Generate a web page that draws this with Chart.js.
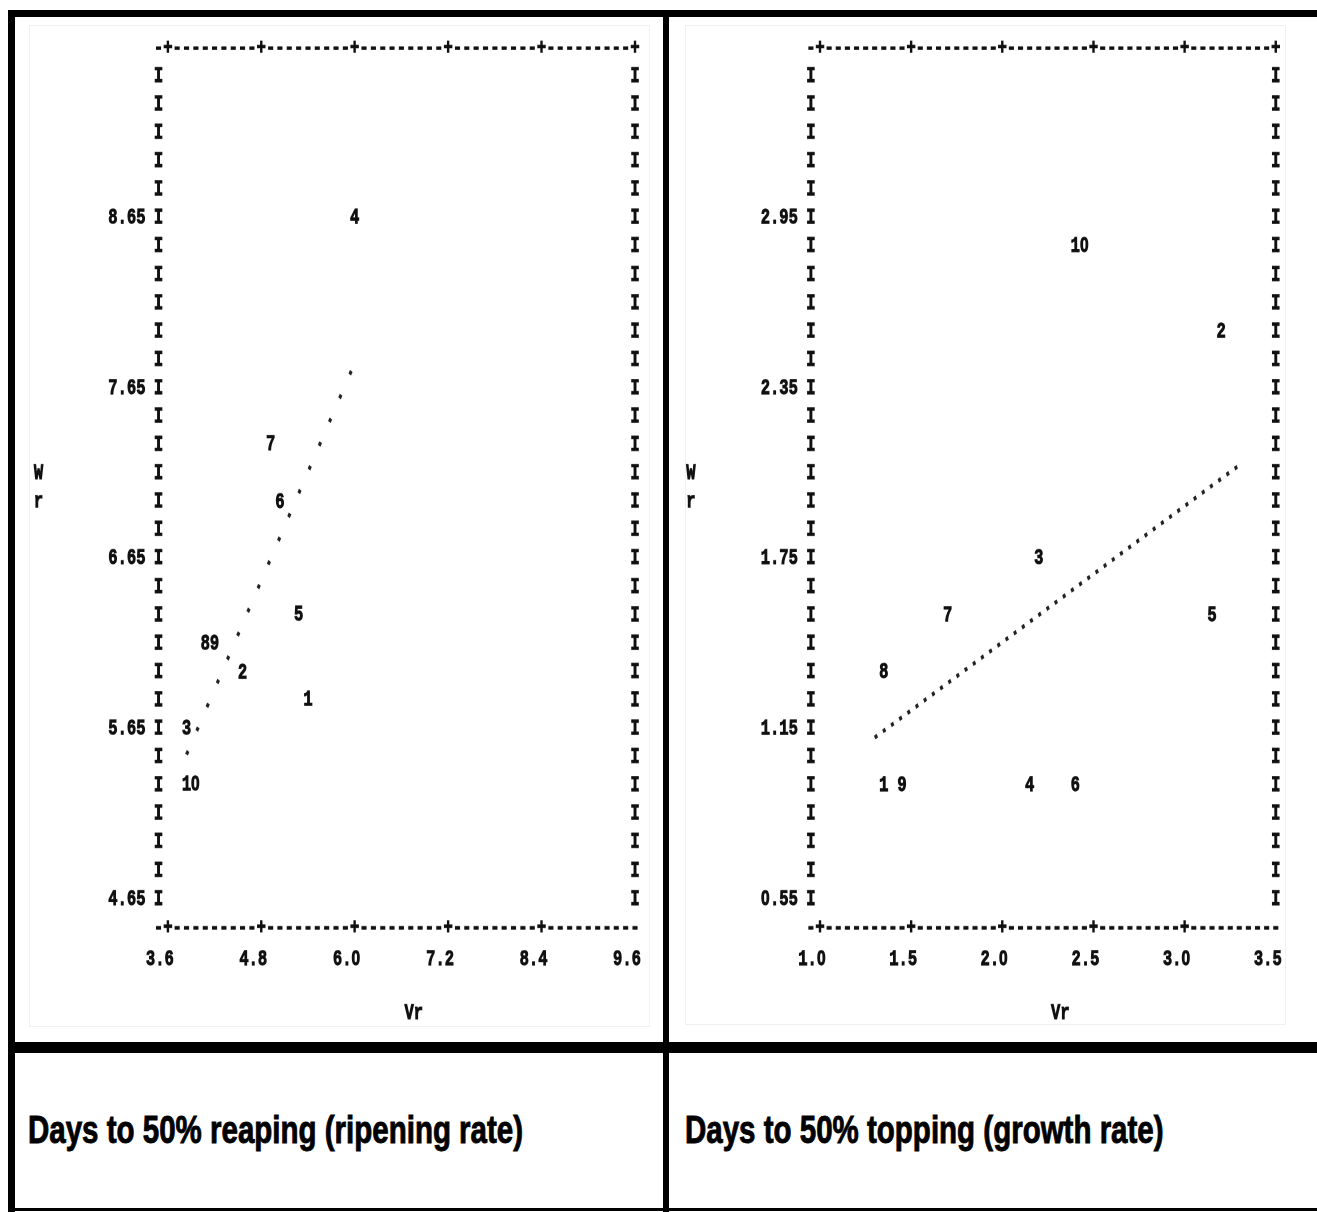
<!DOCTYPE html>
<html>
<head>
<meta charset="utf-8">
<title>Wr/Vr graphs</title>
<script src="https://cdn.jsdelivr.net/npm/chart.js@4/dist/chart.umd.min.js"></script>
<style>
  /* plain (undotted) zero, like the printout */
  @font-face {
    font-family: "PrintZero";
    src: local("Liberation Sans Bold"), local("LiberationSans-Bold");
    font-weight: 700;
    unicode-range: U+0030;
  }
  html, body { margin: 0; padding: 0; background: #fff; }
  body { width: 1317px; height: 1212px; position: relative; overflow: hidden; }
  .bar { position: absolute; background: #000; }
  .frame { position: absolute; border: 1px solid #f1f1f1; }
  .plot { position: absolute; top: 17px; width: 648px; transform-origin: 0 0; }
  .caption { position: absolute; top: 1118px; font: bold 29.5px "Liberation Sans", Arial, sans-serif; line-height: 29.5px;
             white-space: nowrap; color: #000; -webkit-text-stroke: 0.7px #000;
             transform: scaleY(1.33); transform-origin: 0 25px; }
</style>
</head>
<body>

<div class="frame" style="left:29px;top:25px;width:619px;height:1000px"></div>
<div class="frame" style="left:685px;top:25px;width:599px;height:998px"></div>

<div class="plot" style="left:15px"><canvas id="reapChart"></canvas></div>
<div class="plot" style="left:669px"><canvas id="topChart"></canvas></div>

<div class="bar" style="left:8px;top:10px;width:1309px;height:7px"></div>
<div class="bar" style="left:8px;top:10px;width:7px;height:1202px"></div>
<div class="bar" style="left:663px;top:10px;width:6px;height:1202px"></div>
<div class="bar" style="left:8px;top:1042px;width:1309px;height:11px"></div>
<div class="bar" style="left:8px;top:1208px;width:1309px;height:3px"></div>

<div class="caption" style="left:28px">Days to 50% reaping (ripening rate)</div>
<div class="caption" style="left:685px">Days to 50% topping (growth rate)</div>

<script>
// parent numbers printed as plot symbols
const parents = ["1", "2", "3", "4", "5", "6", "7", "8", "9", "10"]

// days to 50% reaping
const reapVr = [5.40, 4.56, 3.84, 6.00, 5.28, 5.04, 4.92, 4.08, 4.20, 3.84]
const reapWr = [5.82, 5.98, 5.65, 8.65, 6.32, 6.98, 7.32, 6.15, 6.15, 5.32]
const reapLineVr = [3.84, 6.00]
const reapLineWr = [5.50, 7.80]
const reapXTicks = [3.6, 4.8, 6.0, 7.2, 8.4, 9.6]
const reapYTicks = [4.65, 5.65, 6.65, 7.65, 8.65]

// days to 50% topping
const topVr = [1.35, 3.20, 2.20, 2.15, 3.15, 2.40, 1.70, 1.35, 1.45, 2.40]
const topWr = [0.95, 2.55, 1.75, 0.95, 1.55, 0.95, 1.55, 1.35, 0.95, 2.85]
const topLineVr = [1.30, 3.30]
const topLineWr = [1.12, 2.08]
const topXTicks = [1.0, 1.5, 2.0, 2.5, 3.0, 3.5]
const topYTicks = [0.55, 1.15, 1.75, 2.35, 2.95]

const MONO_FAMILY = 'PrintZero, "Liberation Mono", "DejaVu Sans Mono", monospace'
const INK = "#111"
const STROKE = 0.7

// the printout is stretched vertically, so each plot is drawn short and scaled
const STRETCH = 1.38
const PANEL_H = 1025
const PLOT_TOP = 31      // top -+--- row, from panel top
const PLOT_BOTTOM = 910  // bottom -+--- row

// line-printer look: I columns, -+--- rows, digit symbols, W/r and Vr titles
const printerPlot = {
    id: "printerPlot",
    afterDatasetsDraw(chart, args, opts) {
        const ctx = chart.ctx
        const a = chart.chartArea
        const x = chart.scales.x
        const y = chart.scales.y
        const xt = opts.xTicks
        const yt = opts.yTicks
        const colStep = (xt[1] - xt[0]) / 10
        const rowStep = (yt[1] - yt[0]) / 6
        const nCols = Math.round((x.max - x.min) / colStep)
        const nRows = Math.round((y.max - y.min) / rowStep)
        const colW = (a.right - a.left) / nCols

        ctx.save()
        ctx.font = "bold 15.5px " + MONO_FAMILY
        ctx.fillStyle = INK
        ctx.strokeStyle = INK
        ctx.lineWidth = STROKE
        ctx.textAlign = "center"
        ctx.textBaseline = "middle"

        const put = (s, px, py) => {
            ctx.fillText(s, px, py)
            ctx.strokeText(s, px, py)
        }

        for (let k = 1; k < nRows; k++) {
            const py = y.getPixelForValue(y.max - k * rowStep)
            put("I", a.left, py)
            put("I", a.right, py)
        }

        const plusCols = xt.map(v => Math.round((x.getPixelForValue(v) - a.left) / colW))
        for (let c = 0; c <= nCols; c++) {
            const px = a.left + c * colW
            const isPlus = plusCols.includes(c)
            put(isPlus ? "+" : "-", px, a.top)
            put(isPlus && c < nCols ? "+" : "-", px, a.bottom)
        }

        put("W", a.left - 120, y.getPixelForValue(y.max - 15 * rowStep))
        put("r", a.left - 120, y.getPixelForValue(y.max - 16 * rowStep))
        put("Vr", (a.left + a.right) / 2 + 17, a.bottom + 86 / STRETCH)

        const cw = ctx.measureText("1").width
        ctx.textAlign = "left"
        chart.getDatasetMeta(0).data.forEach((pt, i) => {
            put(opts.labels[i], pt.x - cw / 2, pt.y)
        })
        ctx.restore()
    }
}

function makePlot(id, vr, wr, lineVr, lineWr, xTicks, yTicks, dash, leftW, rightPad) {

    const box = document.getElementById(id).parentNode
    const h = PANEL_H / STRETCH
    box.style.height = h + "px"
    box.style.transform = "scaleY(" + STRETCH + ")"

    const colStep = (xTicks[1] - xTicks[0]) / 10
    const rowStep = (yTicks[1] - yTicks[0]) / 6
    const tickFont = { family: MONO_FAMILY, size: 15.5, weight: "bold" }

    new Chart(document.getElementById(id), {
        type: "scatter",
        data: {
            datasets: [
                {
                    data: vr.map((v, i) => ({ x: v, y: wr[i] })),
                    pointRadius: 0,
                    pointHoverRadius: 0
                },
                {
                    type: "line",
                    data: lineVr.map((v, i) => ({ x: v, y: lineWr[i] })),
                    showLine: true,
                    borderColor: "#222",
                    borderWidth: 3,
                    borderDash: dash,
                    pointRadius: 0,
                    fill: false
                }
            ]
        },
        options: {
            responsive: true,
            maintainAspectRatio: false,
            animation: false,
            devicePixelRatio: 2,
            layout: { padding: { top: PLOT_TOP / STRETCH, right: rightPad, bottom: 0, left: 0 } },
            plugins: {
                legend: { display: false },
                tooltip: { enabled: false },
                printerPlot: { xTicks: xTicks, yTicks: yTicks, labels: parents }
            },
            scales: {
                x: {
                    type: "linear",
                    min: xTicks[0] - colStep,
                    max: xTicks[xTicks.length - 1],
                    grid: { display: false, drawTicks: false },
                    border: { display: false },
                    afterBuildTicks: s => { s.ticks = xTicks.map(v => ({ value: v })) },
                    afterFit: s => { s.height = h - PLOT_BOTTOM / STRETCH },
                    ticks: {
                        font: tickFont, color: INK, textStrokeColor: INK, textStrokeWidth: STROKE,
                        padding: 14, labelOffset: -8,
                        maxRotation: 0, autoSkip: false,
                        callback: v => v.toFixed(1)
                    }
                },
                y: {
                    type: "linear",
                    min: yTicks[0] - rowStep,
                    max: yTicks[yTicks.length - 1] + 6 * rowStep,
                    grid: { display: false, drawTicks: false },
                    border: { display: false },
                    afterBuildTicks: s => { s.ticks = yTicks.map(v => ({ value: v })) },
                    afterFit: s => { s.width = leftW },
                    ticks: {
                        font: tickFont, color: INK, textStrokeColor: INK, textStrokeWidth: STROKE,
                        padding: 13,
                        callback: v => v.toFixed(2)
                    }
                }
            }
        },
        plugins: [printerPlot]
    })
}

function drawAll() {
    makePlot("reapChart", reapVr, reapWr, reapLineVr, reapLineWr, reapXTicks, reapYTicks, [3, 17], 143.5, 28)
    makePlot("topChart", topVr, topWr, topLineVr, topLineWr, topXTicks, topYTicks, [3, 6.3], 141.9, 41.2)
}

document.fonts.load('bold 15.5px PrintZero', '0')
    .then(drawAll, drawAll)
</script>
</body>
</html>
